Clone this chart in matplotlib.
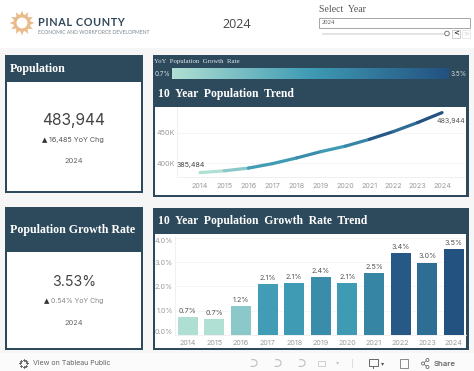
import numpy as np
import matplotlib
matplotlib.use("Agg")
import matplotlib.pyplot as plt
from matplotlib.colors import LinearSegmentedColormap, Normalize
from matplotlib.collections import LineCollection
from matplotlib.patches import Rectangle, Circle, Arc, Polygon

years = [2014, 2015, 2016, 2017, 2018, 2019, 2020, 2021, 2022, 2023, 2024]
population = [384000, 387000, 391500, 399000, 408500, 419000, 428000, 439500, 452500, 467459, 483944]
growth = [0.72, 0.65, 1.18, 2.09, 2.12, 2.38, 2.12, 2.53, 3.37, 2.97, 3.53]
growth_labels = ["0.7%", "0.7%", "1.2%", "2.1%", "2.1%", "2.4%", "2.1%", "2.5%", "3.4%", "3.0%", "3.5%"]
line_first_label = "385,484"
line_last_label = "483,944"
pop_ticks = [400000, 450000]
pop_tick_labels = ["400K", "450K"]
rate_ticks = [0, 1, 2, 3, 4]
rate_tick_labels = ["0.0%", "1.0%", "2.0%", "3.0%", "4.0%"]

W, H = 474, 371
NAVY = "#2d4a5c"
PAGE = "#f6f6f6"
GREY = "#9a9a9a"
DARK = "#555555"
SERIF = "Liberation Serif"
SANS = "Inter"
cmap = LinearSegmentedColormap.from_list("rate", ["#b0dfd3", "#3f9bb4", "#235180"])
norm = Normalize(0.7, 3.53)

fig = plt.figure(figsize=(W / 100, H / 100), dpi=100, facecolor="white")
bg = fig.add_axes([0, 0, 1, 1])
bg.set_xlim(0, W)
bg.set_ylim(H, 0)
bg.axis("off")


def rect(x0, y0, x1, y1, color, z=1, **kw):
    bg.add_patch(Rectangle((x0, y0), x1 - x0, y1 - y0, facecolor=color, edgecolor="none", zorder=z, **kw))


def child(x0, y0, x1, y1):
    ax = fig.add_axes([x0 / W, 1 - y1 / H, (x1 - x0) / W, (y1 - y0) / H])
    ax.patch.set_alpha(0)
    for s in ["top", "right"]:
        ax.spines[s].set_visible(False)
    for s in ["left", "bottom"]:
        ax.spines[s].set_color("#eeeeee")
        ax.spines[s].set_linewidth(0.6)
    ax.tick_params(length=0, labelsize=5.2, labelcolor=GREY)
    return ax


# page bands
rect(0, 48, W, 353, PAGE)
rect(0, 353, W, H, "#fbfbfb")

# panels
rect(5, 55, 143, 193, NAVY, 2)
rect(7, 82, 141, 191, "white", 3)
rect(5, 207, 143, 350, NAVY, 2)
rect(7, 252, 141, 348, "white", 3)
rect(153, 55, 469, 197, NAVY, 2)
rect(155, 107, 466, 195, "white", 3)
rect(153, 208, 469, 350, NAVY, 2)
rect(155, 234, 466, 348, "white", 3)

# panel titles
bg.text(10, 69, "Population", family=SERIF, weight="bold", color="white", fontsize=8.6, va="center", zorder=5)
bg.text(10, 230, "Population Growth Rate", family=SERIF, weight="bold", color="white", fontsize=8.6, va="center", zorder=5)
bg.text(158, 94, "10  Year  Population  Trend", family=SERIF, weight="bold", color="white", fontsize=8.4, va="center", zorder=5)
bg.text(158, 221, "10  Year  Population  Growth  Rate  Trend", family=SERIF, weight="bold", color="white", fontsize=8.4, va="center", zorder=5)

# KPI cards
bg.text(74, 120.5, "483,944", family=SANS, color="#444444", fontsize=11.2, ha="center", va="center", zorder=5)
bg.text(47, 140, "\u25B2", family="DejaVu Sans", color="#333333", fontsize=5, ha="right", va="center", zorder=5)
bg.text(49, 140, "16,485 YoY Chg", family=SANS, color="#555555", fontsize=5.2, ha="left", va="center", zorder=5)
bg.text(74, 161, "2024", family=SANS, color="#666666", fontsize=5.4, ha="center", va="center", zorder=5)
bg.text(74, 282, "3.53%", family=SANS, color="#444444", fontsize=10.2, ha="center", va="center", zorder=5)
bg.text(49, 301, "\u25B2", family="DejaVu Sans", color="#333333", fontsize=5, ha="right", va="center", zorder=5)
bg.text(51, 301, "0.54% YoY Chg", family=SANS, color="#888888", fontsize=5, ha="left", va="center", zorder=5)
bg.text(74, 323, "2024", family=SANS, color="#666666", fontsize=5.4, ha="center", va="center", zorder=5)

# gradient legend
bg.text(154, 61, "YoY  Population  Growth  Rate", family=SERIF, color="#dfe6ea", fontsize=4.85, va="center", zorder=5)
bg.text(155, 73.5, "0.7%", family=SANS, color="#d5dde2", fontsize=4.6, va="center", zorder=5)
bg.text(451, 73.5, "3.5%", family=SANS, color="#d5dde2", fontsize=4.6, va="center", zorder=5)
bg.imshow(np.linspace(0, 1, 256)[None, :], cmap=cmap, extent=(172, 449, 79.5, 68.5), aspect="auto", zorder=4)
bg.set_xlim(0, W)
bg.set_ylim(H, 0)

# population line
ax1 = child(177, 107, 465, 177)
ax1.set_xlim(2013.05, 2024.95)
ax1.set_ylim(376700, 493300)
ax1.set_xticks(years)
ax1.set_xticklabels([str(y) for y in years], family=SANS)
ax1.set_yticks(pop_ticks)
ax1.set_yticklabels(pop_tick_labels, family=SANS)
ax1.tick_params(axis="x", pad=4.5)
ax1.tick_params(axis="y", pad=1.5)
ax1.grid(axis="y", color="#f4f4f4", linewidth=0.6)
ax1.set_axisbelow(True)
pts = np.column_stack([years, population])
segs = np.stack([pts[:-1], pts[1:]], axis=1)
lc = LineCollection(segs, cmap=cmap, norm=norm, linewidths=2.3, capstyle="round")
lc.set_array(np.array(growth[1:]))
ax1.add_collection(lc)
ax1.annotate(line_first_label, (years[0], population[0]), xytext=(-23, 4.5), textcoords="offset pixels",
             fontsize=5.1, color="#444444", family=SANS, ha="left", va="bottom")
ax1.annotate(line_last_label, (years[-1], population[-1]), xytext=(23, -5), textcoords="offset pixels",
             fontsize=5.1, color=DARK, family=SANS, ha="right", va="top", annotation_clip=False)

# growth bars
ax2 = child(175, 236, 466, 334.7)
ax2.set_xlim(2013.52, 2024.46)
ax2.set_ylim(0, 4.08)
ax2.bar(years, growth, width=0.75, color=cmap(norm(np.array(growth))))
ax2.set_xticks(years)
ax2.set_xticklabels([str(y) for y in years], family=SANS)
ax2.set_yticks(rate_ticks)
ax2.set_yticklabels(rate_tick_labels, family=SANS)
ax2.get_yticklabels()[0].set_va("bottom")
ax2.get_yticklabels()[-1].set_va("top")
ax2.tick_params(axis="x", pad=3.5)
ax2.tick_params(axis="y", pad=1.5)
ax2.grid(axis="y", color="#f4f4f4", linewidth=0.6)
ax2.set_axisbelow(True)
for y, v, t in zip(years, growth, growth_labels):
    ax2.annotate(t, (y, v), xytext=(0, 2.5), textcoords="offset points", ha="center", va="bottom",
                 fontsize=5.2, color=DARK, family=SANS)

# logo
sun = "#e9bb8a"
ang = np.linspace(0, 2 * np.pi, 12, endpoint=False)
for a in ang:
    bg.add_patch(Polygon([(22 + 8 * np.cos(a - 0.22), 23 + 8 * np.sin(a - 0.22)),
                          (22 + 12.5 * np.cos(a), 23 + 12.5 * np.sin(a)),
                          (22 + 8 * np.cos(a + 0.22), 23 + 8 * np.sin(a + 0.22))], facecolor=sun, edgecolor="none", zorder=3))
bg.add_patch(Circle((22, 23), 7, facecolor="white", edgecolor=sun, linewidth=2.2, zorder=4))
bg.text(38, 23, "\u200a".join("PINAL COUNTY"), family=["Lato", "DejaVu Sans"], weight="bold", color="#33475a", fontsize=7.8, va="center", zorder=5)
bg.text(38, 32, "ECONOMIC AND WORKFORCE DEVELOPMENT", family="Lato", color="#7a8790", fontsize=3.6, va="center", zorder=5)
bg.text(237, 24, "2024", family="Open Sans", color="#444444", fontsize=9, ha="center", va="center", zorder=5)

# year selector
bg.text(319, 10, "Select  Year", family=SERIF, color="#555555", fontsize=7, va="center", zorder=5)
bg.add_patch(Rectangle((319.5, 17.5), 151, 10, facecolor="white", edgecolor="#999999", linewidth=0.6, zorder=4))
bg.text(322, 22.5, "2024", family=SERIF, color="#555555", fontsize=4.8, va="center", zorder=5)
bg.plot([323, 444], [33.5, 33.5], color="#e2e2e2", lw=1.3, zorder=4)
bg.add_patch(Circle((447, 33.5), 2.3, facecolor="white", edgecolor="#666666", linewidth=0.6, zorder=5))
bg.add_patch(Rectangle((452.5, 29.5), 8, 8, facecolor="white", edgecolor="#bbbbbb", linewidth=0.5, zorder=4))
bg.add_patch(Rectangle((462.5, 29.5), 8, 8, facecolor="white", edgecolor="#e0e0e0", linewidth=0.5, zorder=4))
bg.text(456.5, 33.3, "<", family="DejaVu Sans", weight="bold", color="#333333", fontsize=5, ha="center", va="center", zorder=5)
bg.text(466.5, 33.3, ">", family="DejaVu Sans", color="#cccccc", fontsize=5, ha="center", va="center", zorder=5)

# footer
for dx, dy in [(0, -3.5), (0, 3.5), (-3.5, 0), (3.5, 0), (-2.5, -2.5), (2.5, -2.5), (-2.5, 2.5), (2.5, 2.5)]:
    bg.plot([24 + dx - 1, 24 + dx + 1], [363 + dy, 363 + dy], color="#555555", lw=0.6, zorder=5)
    bg.plot([24 + dx, 24 + dx], [363 + dy - 1, 363 + dy + 1], color="#555555", lw=0.6, zorder=5)
bg.text(33, 363, "View on Tableau Public", family=SANS, color="#666666", fontsize=5.1, va="center", zorder=5)
for cx in (253, 277, 301):
    bg.add_patch(Arc((cx, 363), 8, 7, theta1=-120, theta2=130, color="#c4c4c4", lw=0.9, zorder=5))
bg.add_patch(Rectangle((318, 360.5), 7, 5, facecolor="none", edgecolor="#cfcfcf", linewidth=0.7, zorder=5))
bg.text(338, 363, "\u25BE", family="DejaVu Sans", color="#c8c8c8", fontsize=4.5, ha="center", va="center", zorder=5)
bg.plot([352, 352], [359, 367], color="#dddddd", lw=0.7, zorder=5)
bg.add_patch(Rectangle((369, 359), 9, 6.5, facecolor="none", edgecolor="#666666", linewidth=0.7, zorder=5))
bg.plot([373.5, 373.5], [365.5, 368], color="#666666", lw=0.7, zorder=5)
bg.text(383, 363.5, "\u25BE", family="DejaVu Sans", color="#555555", fontsize=4.5, ha="center", va="center", zorder=5)
bg.add_patch(Rectangle((400, 358.5), 8.5, 9, facecolor="none", edgecolor="#888888", linewidth=0.7, zorder=5))
for cx, cy in [(423, 363.5), (427.5, 360), (427.5, 367)]:
    bg.add_patch(Circle((cx, cy), 1.5, facecolor="white", edgecolor="#666666", linewidth=0.6, zorder=6))
bg.plot([427.5, 423, 427.5], [360, 363.5, 367], color="#666666", lw=0.5, zorder=5)
bg.text(434, 363.5, "Share", family=SANS, weight="semibold", color="#666666", fontsize=5.6, va="center", zorder=5)

fig.savefig("out.png", dpi=100, facecolor="white")
